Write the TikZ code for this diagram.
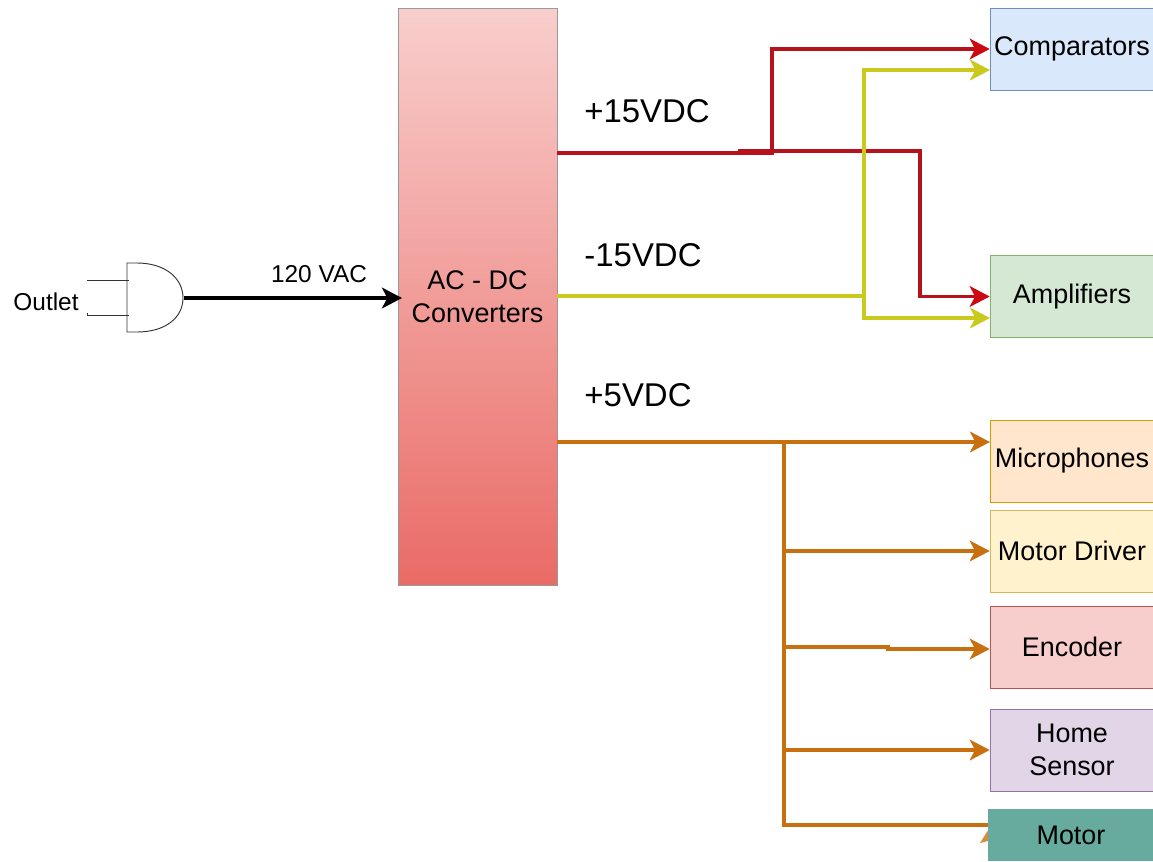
\documentclass[tikz,border=0pt]{standalone}
\usepackage{fontspec}
\setmainfont{Liberation Sans}
\usetikzlibrary{arrows.meta}
\definecolor{redline}{HTML}{B5121B}
\definecolor{redtip}{HTML}{CC0A12}
\definecolor{yellowline}{HTML}{C9C91E}
\definecolor{orangeline}{HTML}{C8700F}
\definecolor{motorfill}{HTML}{67AB9F}
\definecolor{convtop}{HTML}{F8CECC}\definecolor{convbot}{HTML}{EA6B66}
\definecolor{c1}{HTML}{DAE8FC}\definecolor{c1d}{HTML}{6C8EBF}
\definecolor{c2}{HTML}{D5E8D4}\definecolor{c2d}{HTML}{82B366}
\definecolor{c3}{HTML}{FFE6CC}\definecolor{c3d}{HTML}{D79B00}
\definecolor{c4}{HTML}{FFF2CC}\definecolor{c4d}{HTML}{D6B656}
\definecolor{c5}{HTML}{F8CECC}\definecolor{c5d}{HTML}{B85450}
\definecolor{c6}{HTML}{E1D5E7}\definecolor{c6d}{HTML}{9673A6}
\tikzset{
  unitbox/.style={draw,inner sep=0pt,minimum width=123pt,minimum height=61.5pt,align=center,font=\fontsize{20.2}{24.75}\selectfont},
  voltlabel/.style={inner sep=0pt,font=\fontsize{24.7}{29}\selectfont},
  smalllabel/.style={inner sep=0pt,font=\fontsize{18.3}{22}\selectfont},
  feed/.style={line width=2.6pt,-{Stealth[length=15pt,width=15.5pt,inset=4pt]}},
  redfeed/.style={line width=2.6pt,redline,-{Stealth[length=15pt,width=15.5pt,inset=4pt,color=redtip]}},
  bus/.style={line width=2.6pt}
}
\begin{document}
\begin{tikzpicture}[x=.75pt,y=-.75pt,line join=miter]
\path[use as bounding box,clip] (0,0) rectangle (1153,861);
\node[unitbox,draw=black!40,top color=convtop,bottom color=convbot,minimum width=119.25pt,minimum height=432.75pt] (conv) at (477.5,296.5) {AC - DC\\Converters};
\node[unitbox,draw=c1d,fill=c1] (comp) at (1072,49) {Comparators};
\node[unitbox,draw=c2d,fill=c2] (amps) at (1072,296.5) {Amplifiers};
\node[unitbox,draw=c3d,fill=c3] (mics) at (1072,461) {Microphones};
\node[unitbox,draw=c4d,fill=c4] (driver) at (1072,551) {Motor Driver};
\node[unitbox,draw=c5d,fill=c5] (enc) at (1072,647) {Encoder};
\node[unitbox,draw=c6d,fill=c6] (home) at (1072,750) {Home\\Sensor};
% plug
\draw[line width=.7pt,black!80] (87,280)--(129,280) (87,312.5)--(87,315)--(129,315);
\draw[line width=.7pt,black!80] (127,263)--(137,263) .. controls (165,263) and (183,278) .. (183,298) .. controls (183,318) and (165,332) .. (137,332)--(127,332)--cycle;
\coordinate (plug) at (184,298); \coordinate (vacin) at (402,298);
\node[smalllabel] (outlet) at (46,302) {Outlet};
\node[smalllabel] (vac) at (319,274) {120 VAC};
\node[voltlabel] (plus15) at (647,111) {+15VDC};
\node[voltlabel] (minus15) at (643,255) {-15VDC};
\node[voltlabel] (plus5) at (638,395) {+5VDC};
\draw[feed,black] (plug)--(vacin);
% +15
\coordinate (jred) at (772,153); \coordinate (jred2) at (738,151);
\draw[redfeed] (conv.east |- jred)--(jred)--(jred |- comp.west)--(comp.west);
\draw[redfeed] (jred2)--(920,151)--(920,296.5)--(amps.west);
% -15
\coordinate (jyel) at (864,296); \coordinate (compin) at (990,70); \coordinate (ampsin) at (990,318);
\draw[bus,yellowline] (conv.east |- jyel)--(jyel);
\draw[feed,yellowline] (jyel)--(jyel |- compin)--(compin);
\draw[feed,yellowline] (jyel)--(jyel |- ampsin)--(ampsin);
% +5
\coordinate (jora) at (784,442); \coordinate (micsin) at (990,442); \coordinate (enctap) at (888,647); \coordinate (motorin) at (990,825);
\draw[feed,orangeline] (conv.east |- jora)--(micsin);
\draw[bus,orangeline] (jora)--(jora |- motorin)--(motorin);
\draw[feed,orangeline] (784,551)--(driver.west);
\draw[feed,orangeline] (784,647)--(enctap)--(888,649)--(enc.west |- 0,649);
\draw[feed,orangeline] (784,750)--(home.west);
\fill[orangeline!80!white] (980,843)--(992,824)--(992,840)--cycle;
\node[unitbox,draw=none,fill=motorfill,minimum width=124.5pt,minimum height=39pt] (motor) at (1071,835) {Motor};
\end{tikzpicture}
\end{document}
